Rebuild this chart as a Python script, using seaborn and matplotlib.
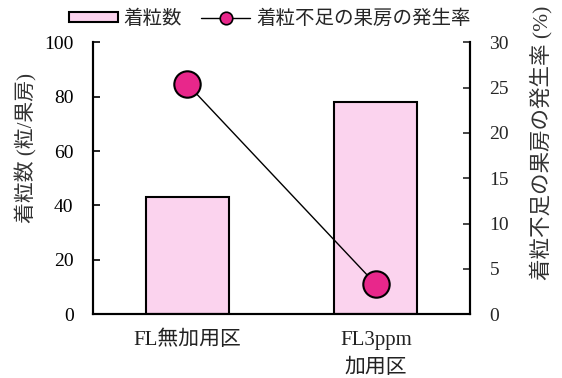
import matplotlib
matplotlib.use("Agg")
import matplotlib.pyplot as plt
import seaborn as sns
import numpy as np
import pandas as pd
from matplotlib.patches import Patch
from matplotlib.lines import Line2D

categories = ["FL無加用区", "FL3ppm\n加用区"]
grain_counts = [43.2, 78.0]
shortage_rates = [25.4, 3.3]
left_ticks = [0, 20, 40, 60, 80, 100]
right_ticks = [0, 5, 10, 15, 20, 25, 30]

sns.set_theme(style="white")
FAM = ["Liberation Serif", "Noto Sans CJK JP"]
plt.rcParams["font.family"] = FAM
plt.rcParams["font.size"] = 14

bar_color = "#FBD3EE"
dot_color = "#E8278B"
text_color = "#333333"

fig = plt.figure(figsize=(5.62, 3.78), dpi=100)
ax = fig.add_axes([0.1655, 0.169, 0.671, 0.719])

df = pd.DataFrame({"cat": categories, "count": grain_counts})
sns.barplot(data=df, x="cat", y="count", ax=ax, color=bar_color,
            edgecolor="black", linewidth=1.5, width=0.44, saturation=1)
ax.set_xlim(-0.5, 1.5)
ax.set_ylim(0, 100)
ax.set_yticks(left_ticks)
ax.set_xlabel("")
ax.set_ylabel("着粒数 (粒/果房)", fontsize=15, color=text_color)
ax.yaxis.set_label_coords(-0.1485, 0.61)
ax.tick_params(axis="y", direction="in", length=5, width=1.2, labelsize=14, pad=14, colors="black")
ax.tick_params(axis="x", length=0, labelsize=15, pad=12)
for lab in ax.get_xticklabels():
    lab.set_color("#222222")
    lab.set_linespacing(1.6)

ax2 = ax.twinx()
sns.lineplot(x=np.arange(len(categories)), y=shortage_rates, ax=ax2, color="black",
             linewidth=1.0, marker="o", markersize=19, markerfacecolor=dot_color,
             markeredgecolor="black", markeredgewidth=1.5)
ax2.set_ylim(0, 30)
ax2.set_yticks(right_ticks)
ax2.set_ylabel("着粒不足の果房の発生率 (%)", fontsize=15.5, color=text_color)
ax2.yaxis.set_label_coords(1.157, 0.63)
ax2.tick_params(axis="y", direction="in", length=5, width=1.2, labelsize=14, pad=14)
ax2.set_xlim(-0.5, 1.5)

for a in (ax, ax2):
    a.spines["top"].set_visible(False)
    for s in ["left", "right", "bottom"]:
        a.spines[s].set_color("black")
        a.spines[s].set_linewidth(1.5)

handles = [
    Patch(facecolor=bar_color, edgecolor="black", linewidth=1.5, label="着粒数"),
    Line2D([0], [0], color="black", linewidth=1.0, marker="o", markersize=9,
           markerfacecolor=dot_color, markeredgecolor="black", markeredgewidth=1.2,
           label="着粒不足の果房の発生率"),
]
fig.legend(handles=handles, loc="upper center", bbox_to_anchor=(0.48, 1.02), ncol=2,
           frameon=False, fontsize=14, handlelength=2.5, handleheight=0.4,
           columnspacing=1.0, handletextpad=0.3)

fig.savefig("out.png", dpi=100)
